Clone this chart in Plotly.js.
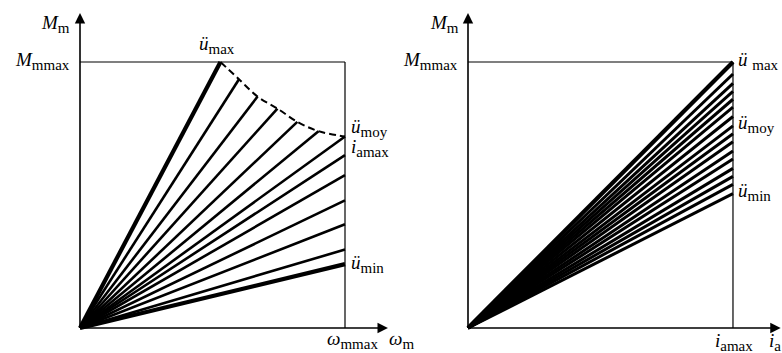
<!DOCTYPE html>
<html>
<head>
<meta charset="utf-8">
<script src="https://cdn.plot.ly/plotly-2.35.2.min.js"></script>
<style>html,body{margin:0;padding:0;background:#fff;}#chart{width:782px;height:353px;}</style>
</head>
<body>
<div id="chart"></div>
<script>
// ---- data (normalised: 1 = max) ----
// Left panel: torque M_m vs speed ω_m, end points of each characteristic
const leftEndX = [0.53, 0.60, 0.67, 0.745, 0.82, 0.90, 1.0, 1.0, 1.0, 1.0, 1.0, 1.0, 1.0];
const leftEndY = [1.0, 0.935, 0.87, 0.825, 0.775, 0.74, 0.72, 0.65, 0.575, 0.48, 0.39, 0.295, 0.24];
// dashed limit curve through the upper end points
const dashX = [0.53, 0.60, 0.67, 0.745, 0.82, 0.90, 1.0];
const dashY = [1.0, 0.935, 0.87, 0.825, 0.775, 0.74, 0.72];
// Right panel: torque M_m vs armature current i_a, end points at i_amax
const rightEndY = [1.0, 0.955, 0.92, 0.89, 0.86, 0.83, 0.795, 0.76, 0.73, 0.70, 0.665, 0.635, 0.60, 0.57, 0.54, 0.505];

// ---- layout constants (pixels) ----
const W = 782, H = 353;
const sx = 265, sy = 266;
const oyPx = 328;
const oxL = 80, oxR = 468;
const xr = [-0.04, 1.2], xrR = [-0.04, 1.185], yr = [-0.04, 1.2];
const fx = p => p / W, fy = p => 1 - p / H;

const traces = [];
leftEndX.forEach((x, i) => {
  const thick = (i === 0 || i === leftEndX.length - 1);
  traces.push({x: [0, x], y: [0, leftEndY[i]], xaxis: 'x', yaxis: 'y', mode: 'lines',
    line: {color: '#000', width: thick ? 4.2 : 2.6}, hoverinfo: 'skip', showlegend: false});
});
traces.push({x: dashX, y: dashY, xaxis: 'x', yaxis: 'y', mode: 'lines',
  line: {color: '#000', width: 2, dash: '7px,4px', shape: 'spline'}, hoverinfo: 'skip', showlegend: false});
rightEndY.forEach((y, i) => {
  traces.push({x: [0, 1], y: [0, y], xaxis: 'x2', yaxis: 'y2', mode: 'lines',
    line: {color: '#000', width: i === 0 ? 4.2 : 3}, hoverinfo: 'skip', showlegend: false});
});

const ax = (dom, rng) => ({domain: dom, range: rng, showgrid: false, zeroline: false,
  showticklabels: false, showline: false, ticks: '', fixedrange: true});
const ydom = [(H - (oyPx - yr[0] * sy)) / H, (H - (oyPx - yr[1] * sy)) / H];

const font = {family: 'Liberation Serif, Times New Roman, serif', size: 19, color: '#000'};
const sub = s => '<sub><span style="font-size:15px">' + s + '</span></sub>';
const lab = (text, xp, yp, xa) => ({text, x: fx(xp), y: fy(yp), xref: 'paper', yref: 'paper',
  xanchor: xa || 'left', yanchor: 'middle', showarrow: false, font});
const arrow = (xref, yref, x, y) => ({x, y, ax: 0, ay: 0, xref, yref, axref: xref, ayref: yref,
  text: '', showarrow: true, arrowhead: 2, arrowsize: 1.3, arrowwidth: 1.6, arrowcolor: '#000', standoff: 0});

const boxShapes = (xa, ya) => [
  {type: 'line', xref: xa, yref: ya, x0: 0, y0: 1, x1: 1, y1: 1, line: {color: '#000', width: 1.2}},
  {type: 'line', xref: xa, yref: ya, x0: 1, y0: 1, x1: 1, y1: 0, line: {color: '#000', width: 1.2}}
];

const layout = {
  width: W, height: H, margin: {l: 0, r: 0, t: 0, b: 0},
  paper_bgcolor: '#fff', plot_bgcolor: 'rgba(0,0,0,0)', showlegend: false,
  xaxis: ax([(oxL + xr[0] * sx) / W, (oxL + xr[1] * sx) / W], xr),
  yaxis: ax(ydom, yr),
  xaxis2: Object.assign(ax([(oxR + xrR[0] * sx) / W, Math.min(1, (oxR + xrR[1] * sx) / W)], xrR), {anchor: 'y2'}),
  yaxis2: Object.assign(ax(ydom, yr), {anchor: 'x2'}),
  shapes: boxShapes('x', 'y').concat(boxShapes('x2', 'y2')),
  annotations: [
    arrow('x', 'y', 0, 1.184), arrow('x', 'y', 1.162, 0),
    arrow('x2', 'y2', 0, 1.184), arrow('x2', 'y2', 1.18, 0),
    lab('<i>M</i>' + sub('m'), 72, 24, 'right'),
    lab('<i>M</i>' + sub('mmax'), 72, 61, 'right'),
    lab('<i>ü</i>' + sub('max'), 217, 45, 'center'),
    lab('<i>ü</i>' + sub('moy'), 349, 128),
    lab('<i>i</i>' + sub('amax'), 349, 148),
    lab('<i>ü</i>' + sub('min'), 349, 264),
    lab('<i>ω</i>' + sub('mmax'), 352, 340, 'center'),
    lab('<i>ω</i>' + sub('m'), 387, 340),
    lab('<i>M</i>' + sub('m'), 461, 24, 'right'),
    lab('<i>M</i>' + sub('mmax'), 460, 61, 'right'),
    lab('<i>ü</i> ' + sub('max'), 736, 61),
    lab('<i>ü</i>' + sub('moy'), 736, 124),
    lab('<i>ü</i>' + sub('min'), 736, 192),
    lab('<i>i</i>' + sub('amax'), 734, 342, 'center'),
    lab('<i>i</i>' + sub('a'), 767, 342)
  ]
};

Plotly.newPlot('chart', traces, layout, {staticPlot: true, displayModeBar: false});
</script>
</body>
</html>
